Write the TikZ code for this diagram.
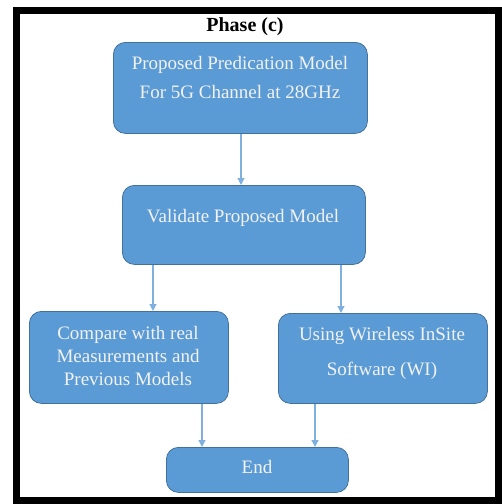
\documentclass[tikz,border=0pt]{standalone}
\usepackage{fontspec}
\setmainfont{Liberation Serif}
\usetikzlibrary{arrows.meta}
\definecolor{boxfill}{HTML}{5B9BD5}
\definecolor{boxline}{HTML}{41719C}
\definecolor{arrowc}{HTML}{7FB0E0}
\definecolor{txtc}{HTML}{F2F2F2}
\tikzset{
  flowbox/.style={draw=boxline, line width=0.8pt, fill=boxfill, rounded corners=12pt, inner sep=0pt},
  boxtext/.style={text=txtc, font=\fontsize{19}{23}\selectfont, align=center, inner sep=0pt},
  conn/.style={draw=arrowc, line width=1.2pt, -{Triangle[length=7pt,width=7pt]}}
}
\begin{document}
\begin{tikzpicture}[x=1pt,y=-1pt]
\useasboundingbox (0,0) rectangle (502,504);
\draw[line width=7pt] (16.5,10) rectangle (498.5,500.5);
\node[font=\fontsize{20}{24}\selectfont\bfseries, inner sep=0pt] (title) at (245,27) {Phase (c)};
\node[flowbox, minimum width=254pt, minimum height=91pt, anchor=north west] (pm) at (113,42) {};
\node[boxtext] (pm1) at (240,65) {Proposed Predication Model};
\node[boxtext] (pm2) at (240,92) {For 5G Channel at 28GHz};
\node[flowbox, minimum width=243pt, minimum height=79pt, anchor=north west] (vm) at (122,185) {};
\node[boxtext] (vmt) at (243,218) {Validate Proposed Model};
\node[flowbox, minimum width=199pt, minimum height=92pt, anchor=north west] (cm) at (29,311) {};
\node[boxtext, font=\fontsize{19}{23}\selectfont] (cmt) at (128,356) {Compare with real\\Measurements and\\Previous Models};
\node[flowbox, minimum width=209pt, minimum height=90pt, anchor=north west] (wi) at (278,313) {};
\node[boxtext] (wi1) at (382,336) {Using Wireless InSite};
\node[boxtext] (wi2) at (382,371) {Software (WI)};
\node[flowbox, minimum width=182pt, minimum height=45pt, anchor=north west] (end) at (166,447) {};
\node[boxtext] (endt) at (257,467) {End};
\draw[conn] (pm.south -| 241,0) -- (vm.north -| 241,0);
\draw[conn] (vm.south -| 153,0) -- (cm.north -| 153,0);
\draw[conn] (vm.south -| 341,0) -- (wi.north -| 341,0);
\draw[conn] (cm.south -| 202,0) -- (end.north -| 202,0);
\draw[conn] (wi.south -| 315,0) -- (end.north -| 315,0);
\end{tikzpicture}
\end{document}
